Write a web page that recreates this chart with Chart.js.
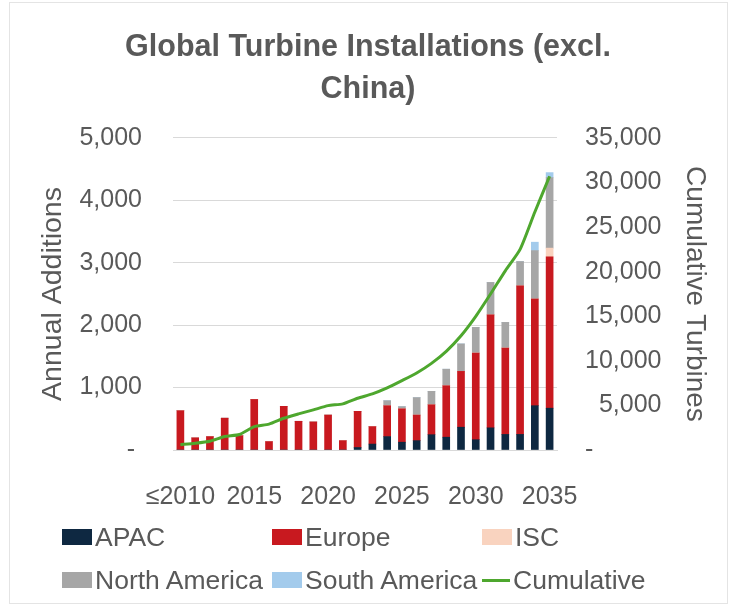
<!DOCTYPE html>
<html>
<head>
<meta charset="utf-8">
<script src="https://cdn.jsdelivr.net/npm/chart.js@4"></script>
<style>
  body { margin: 0; background: #fff; }
  #wrap { position: relative; width: 736px; height: 609px; }
  #frame { position: absolute; left: 9px; top: 2px; width: 717px; height: 600px; border: 1px solid #e4e4e4; pointer-events: none; }
  #legend { position: absolute; left: 0; top: 0; font-family: "Liberation Sans", Arial, sans-serif; font-size: 26.5px; color: #595959; }
  .item { position: absolute; display: flex; align-items: center; height: 30px; white-space: nowrap; }
  .box { width: 30px; height: 16px; margin-right: 3px; }
  .line { width: 28px; height: 3px; margin-right: 3px; }
</style>
</head>
<body>
<div id="wrap">
  <canvas id="chart"></canvas>
  <div id="legend"></div>
  <div id="frame"></div>
</div>
<script>
const years = ["≤2010", "2011", "2012", "2013", "2014", "2015", "2016", "2017", "2018", "2019",
  "2020", "2021", "2022", "2023", "2024", "2025", "2026", "2027", "2028", "2029",
  "2030", "2031", "2032", "2033", "2034", "2035"];

const apac = [0, 0, 0, 0, 0, 0, 0, 0, 0, 0,
  0, 0, 40, 95, 215, 125, 150, 245, 205, 365,
  165, 355, 250, 250, 710, 670];
const europe = [630, 195, 215, 510, 230, 810, 135, 700, 460, 450,
  560, 150, 580, 280, 495, 535, 410, 480, 825, 895,
  1390, 1810, 1385, 2380, 1710, 2425];
const isc = [0, 0, 0, 0, 0, 0, 0, 0, 0, 0,
  0, 0, 0, 0, 0, 0, 0, 0, 0, 0,
  0, 0, 0, 0, 0, 140];
const northAmerica = [0, 0, 0, 0, 0, 0, 0, 0, 0, 0,
  0, 0, 0, 0, 80, 35, 280, 215, 265, 440,
  410, 520, 410, 390, 775, 1130];
const southAmerica = [0, 0, 0, 0, 0, 0, 0, 0, 0, 0,
  0, 0, 0, 0, 0, 0, 0, 0, 0, 0,
  0, 0, 0, 0, 135, 80];
const cumulative = [600, 760, 990, 1510, 1740, 2620, 2900, 3560, 4050, 4500,
  4980, 5170, 5800, 6290, 6960, 7780, 8640, 9720, 11070, 12820,
  15000, 17500, 20100, 22500, 26700, 30700];

const gray = "#595959";
const font = "'Liberation Sans', Arial, sans-serif";
Chart.defaults.font.family = font;
Chart.defaults.color = gray;

function bar(label, data, color) {
  return { label: label, data: data, backgroundColor: color, barThickness: 7, order: 1, yAxisID: "y" };
}

const chart = new Chart(document.getElementById("chart"), {
  type: "bar",
  data: {
    labels: years,
    datasets: [
      bar("APAC", apac, "#0e2841"),
      bar("Europe", europe, "#c8191f"),
      bar("ISC", isc, "#f9d3bf"),
      bar("North America", northAmerica, "#a6a6a6"),
      bar("South America", southAmerica, "#a3cbec"),
      {
        type: "line", label: "Cumulative", data: cumulative, yAxisID: "y1",
        borderColor: "#4ea72e", backgroundColor: "#4ea72e", borderWidth: 3,
        pointRadius: 0, tension: 0.2, order: 0
      }
    ]
  },
  options: {
    responsive: true,
    maintainAspectRatio: false,
    animation: false,
    layout: { padding: { left: 0, right: 0, top: 0, bottom: 105 } },
    plugins: {
      legend: { display: false },
      tooltip: { enabled: false },
      title: {
        display: true,
        text: ["Global Turbine Installations (excl.", "China)"],
        color: gray,
        font: { size: 30.5, weight: "bold", lineHeight: 1.36 },
        padding: { top: 27, bottom: 28 }
      }
    },
    scales: {
      x: {
        stacked: true,
        grid: { display: false },
        border: { color: "#d9d9d9" },
        ticks: {
          autoSkip: false, maxRotation: 0, padding: 24,
          font: { size: 25 }, color: gray,
          callback: function (v, i) { return i % 5 === 0 ? this.getLabelForValue(v) : ""; }
        },
        afterFit: s => { s.height = 54; }
      },
      y: {
        stacked: true, min: 0, max: 5000,
        grid: { color: "#d9d9d9", drawTicks: false },
        border: { display: false },
        ticks: {
          stepSize: 1000, padding: 31, font: { size: 25 }, color: gray,
          callback: v => v === 0 ? "- " : v.toLocaleString("en-US")
        },
        title: { display: true, text: "Annual Additions", color: gray, font: { size: 28.5 }, padding: { top: 36, bottom: 0 } },
        afterFit: s => { s.width = 173; }
      },
      y1: {
        position: "right", min: 0, max: 35000,
        grid: { drawOnChartArea: false, drawTicks: false },
        border: { display: false },
        ticks: {
          stepSize: 5000, padding: 28, font: { size: 25 }, color: gray,
          callback: v => v === 0 ? "-" : (v < 10000 ? "\u2007" : "") + v.toLocaleString("en-US")
        },
        title: { display: true, text: "Cumulative Turbines", color: gray, font: { size: 28 }, padding: { top: 24, bottom: 0 } },
        afterFit: s => { s.width = 179; }
      }
    }
  }
});

// legend laid out in a 3-column grid like the original
const cols = [62, 272, 482];
const rows = [537, 580];
const legend = document.getElementById("legend");
chart.data.datasets.forEach((ds, i) => {
  const item = document.createElement("div");
  item.className = "item";
  item.style.left = cols[i % 3] + "px";
  item.style.top = (rows[Math.floor(i / 3)] - 15) + "px";
  const sw = document.createElement("span");
  sw.className = ds.type === "line" ? "line" : "box";
  sw.style.background = ds.type === "line" ? ds.borderColor : ds.backgroundColor;
  item.appendChild(sw);
  item.appendChild(document.createTextNode(ds.label));
  legend.appendChild(item);
});
</script>
</body>
</html>
